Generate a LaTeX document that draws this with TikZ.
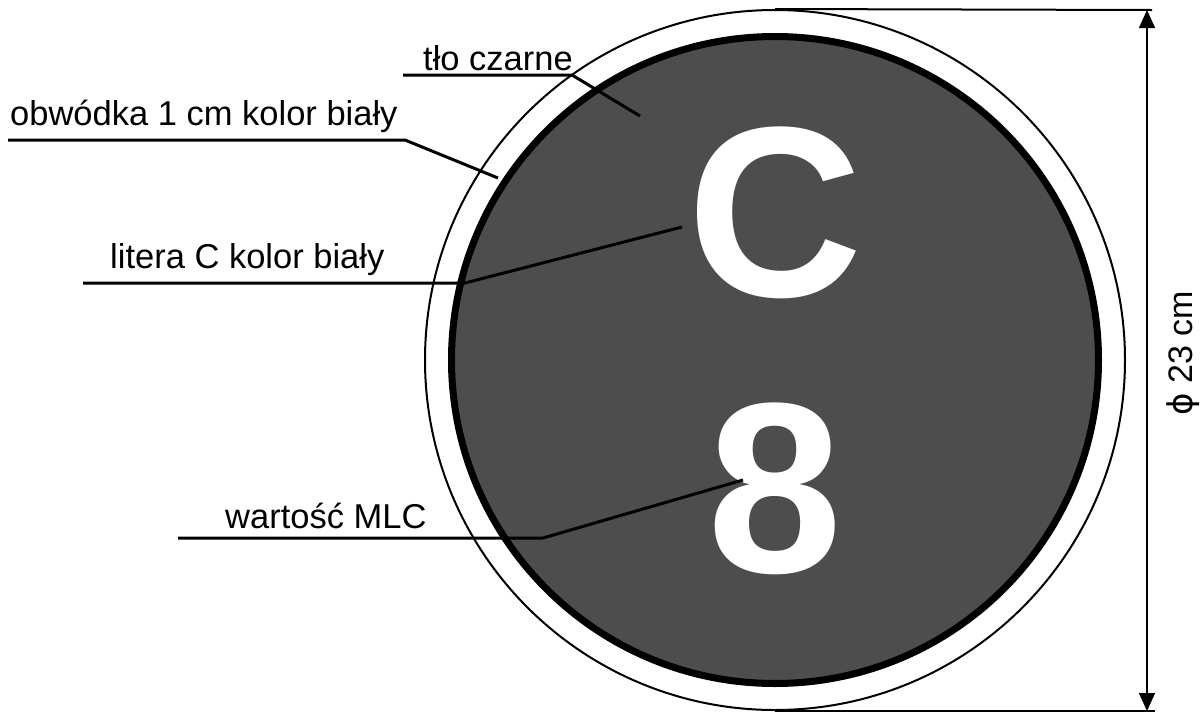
\documentclass[tikz,border=0pt]{standalone}
\usepackage{fontspec}
\setmainfont{Liberation Sans}
\newfontfamily\dejavu{DejaVu Sans}
\usetikzlibrary{arrows.meta}
\definecolor{signgray}{RGB}{77,77,77}
\begin{document}
\begin{tikzpicture}[x=1pt,y=-1pt,
  lbl/.style={font=\fontsize{34.5}{40}\selectfont, inner sep=0pt, anchor=base west},
  uline/.style={line width=3pt, line join=miter},
  big/.style={font=\fontsize{243}{250}\selectfont\bfseries, text=white, inner sep=0pt},
  dimarrow/.style={line width=1.6pt, {Triangle[width=16pt,length=18pt]}-{Triangle[width=16pt,length=18pt]}}]
\useasboundingbox (0,0) rectangle (1203,713);
\fill[white] (0,0) rectangle (1203,713);
% sign
\node[circle, draw, line width=2pt, minimum size=700pt, inner sep=0pt] (outer) at (775,360) {};
\node[circle, draw, fill=signgray, line width=7pt, minimum size=647pt, inner sep=0pt] (disc) at (775,360) {};
\node[big] (letterC) at (775,213) {C};
\node[big] (digit8) at (775,489) {8};
% labels
\node[lbl] (l1) at (423,70) {tło czarne};
\node[lbl] (l2) at (10,125) {obwódka 1 cm kolor biały};
\node[lbl] (l3) at (110,268) {litera C kolor biały};
\node[lbl] (l4) at (225,528) {wartość MLC};
% leader coordinates
\coordinate (s1) at (403,75);  \coordinate (k1) at (572,75);  \coordinate (e1) at (640,116);
\coordinate (s2) at (8,140);   \coordinate (k2) at (405,140); \coordinate (e2) at (498,178);
\coordinate (s3) at (83,283);  \coordinate (k3) at (465,283); \coordinate (e3) at (682,227);
\coordinate (s4) at (178,538); \coordinate (k4) at (543,538); \coordinate (e4) at (743,480);
\draw[uline] (s1) -- (k1) -- (e1);
\draw[uline] (s2) -- (k2) -- (e2);
\draw[uline] (s3) -- (k3) -- (e3);
\draw[uline] (s4) -- (k4) -- (e4);
% dimension
\coordinate (dt) at (1147,10);
\coordinate (db) at (1147,711);
\coordinate (ht) at (1152,10);
\coordinate (hb) at (1155,711);
\draw[line width=2pt] (outer.north) -- (ht);
\draw[line width=2pt] (outer.south |- hb) -- (hb);
\draw[dimarrow] (dt) -- (db);
\node[rotate=90, font=\fontsize{34}{40}\selectfont, inner sep=0pt] (dim) at (1183,353) {{\dejavu ϕ} 23 cm};
\end{tikzpicture}
\end{document}
